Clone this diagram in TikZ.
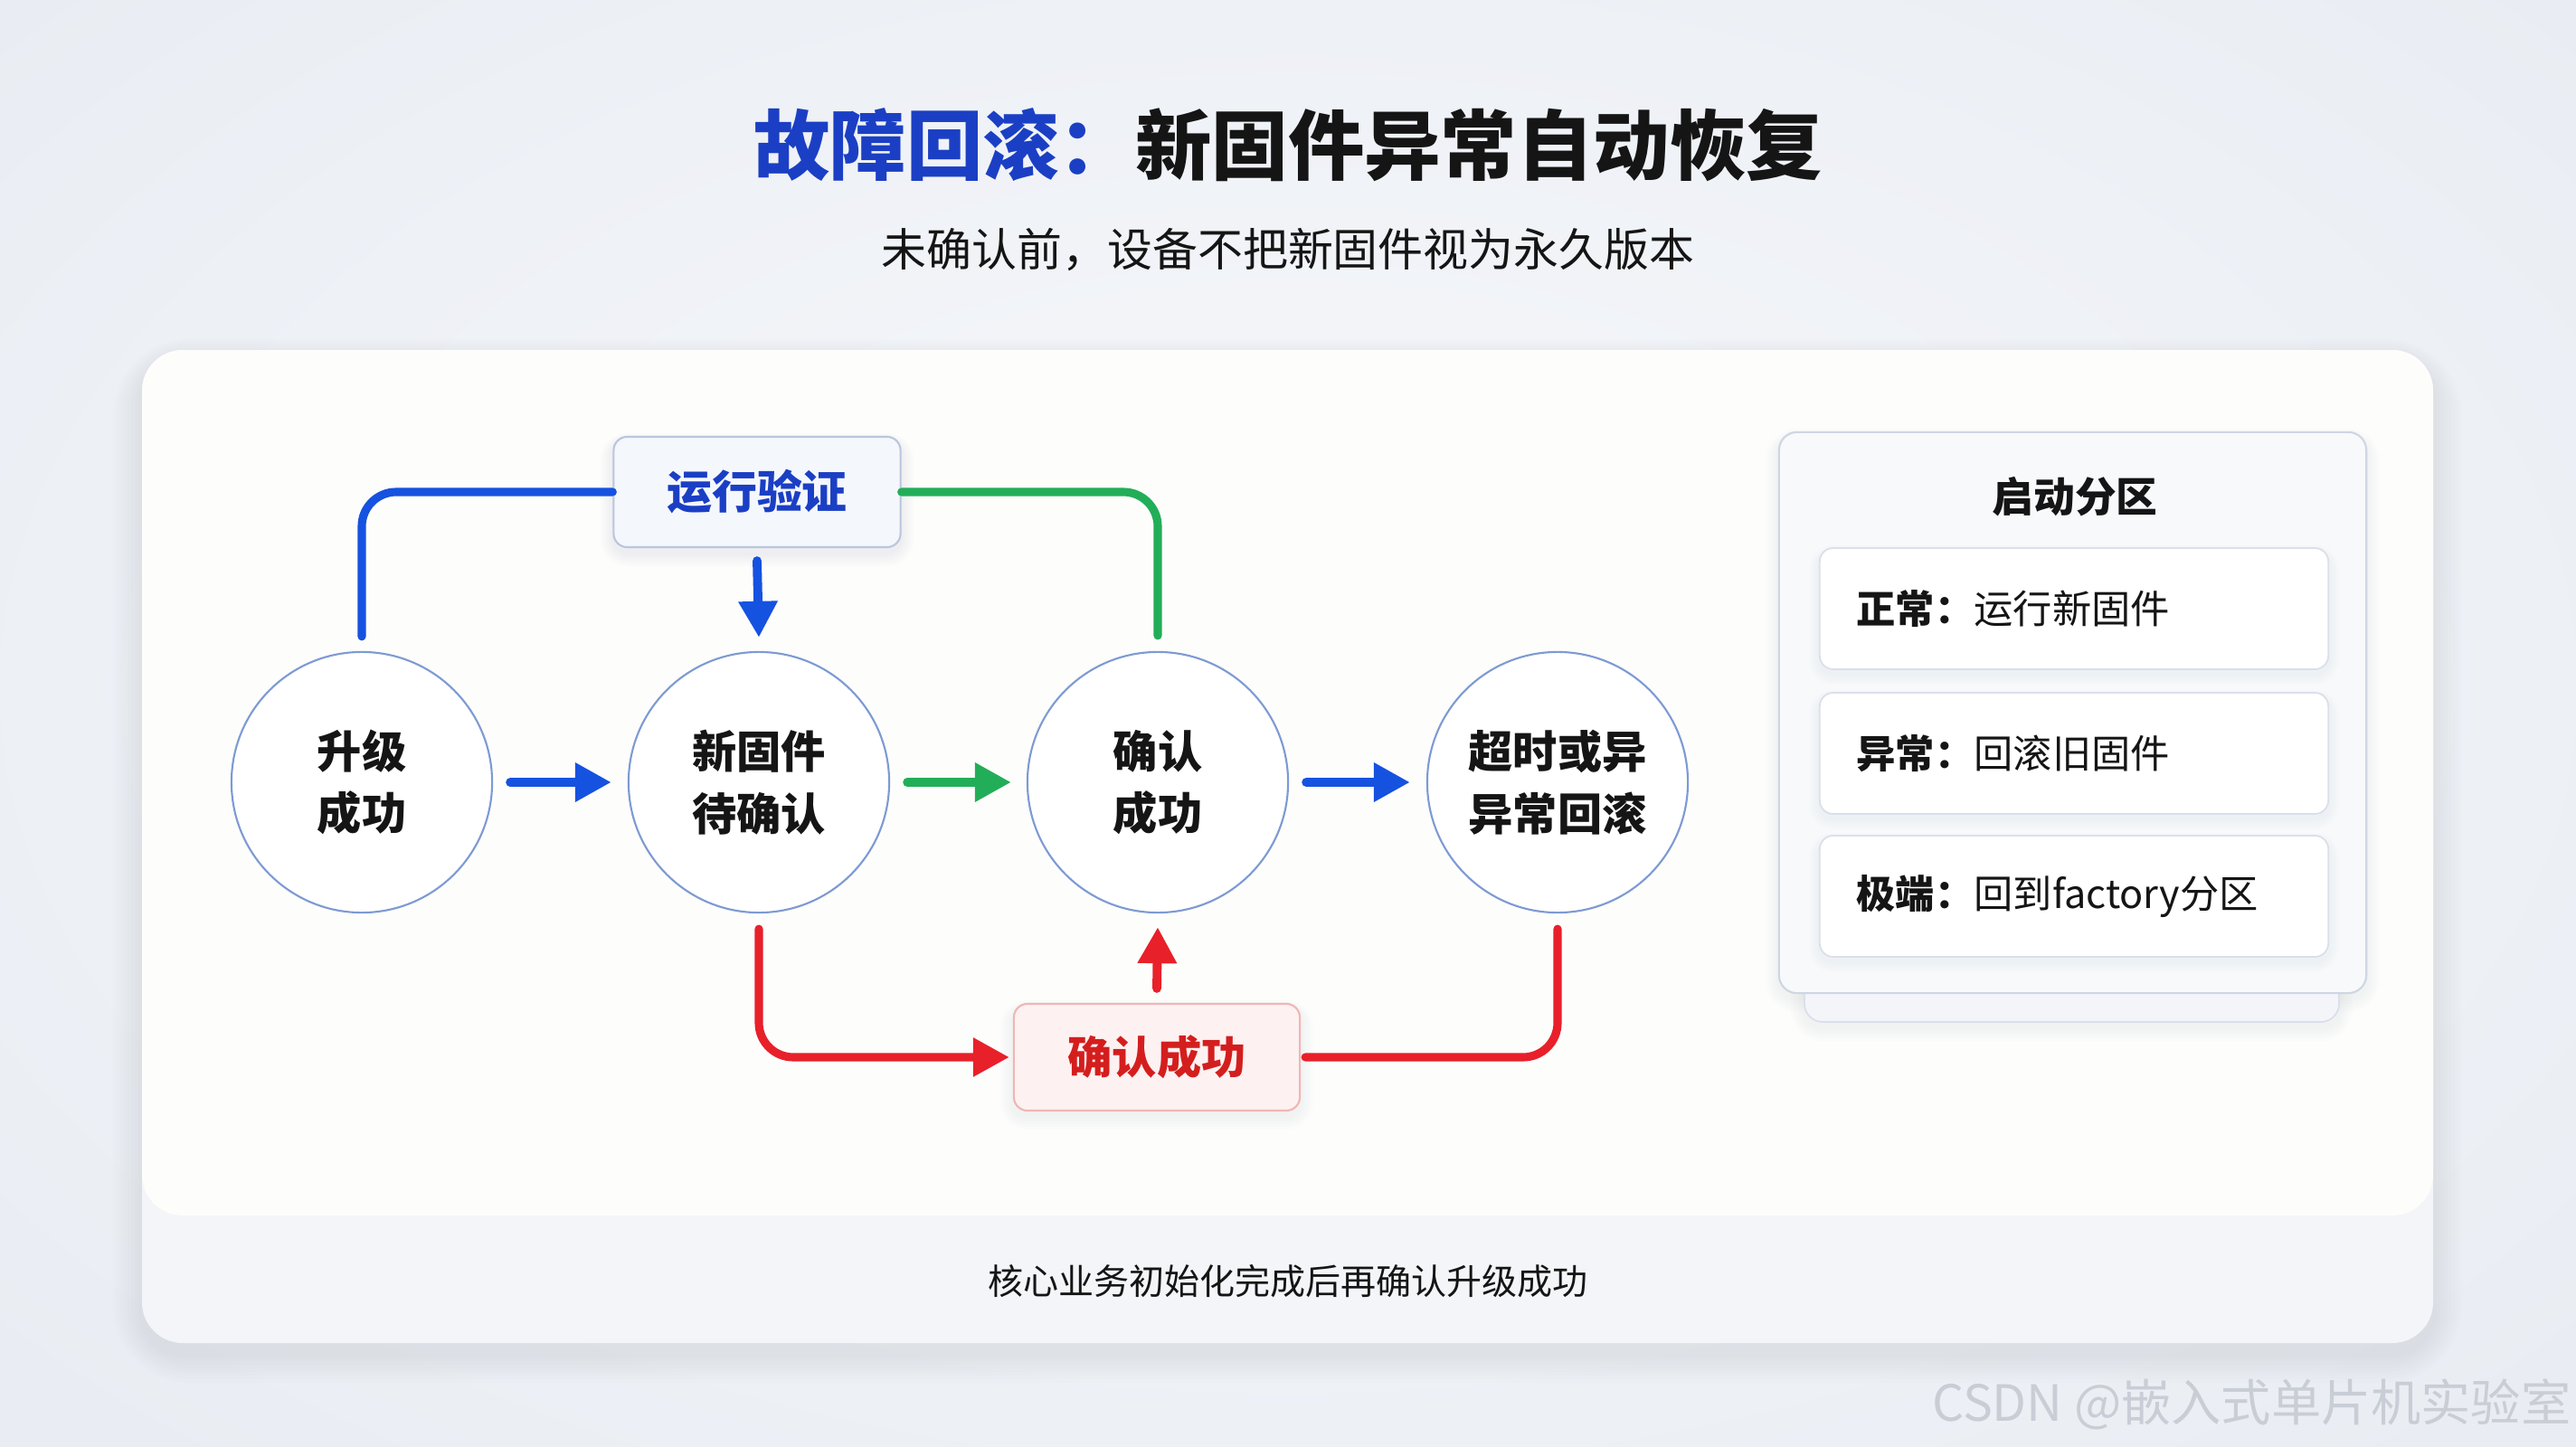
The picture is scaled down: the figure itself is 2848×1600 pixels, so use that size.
\documentclass[tikz,border=0pt]{standalone}
\usepackage{fontspec}
\setmainfont{Noto Sans CJK SC}
\usetikzlibrary{arrows.meta,calc}
\definecolor{bgc}{HTML}{E9EDF3}
\definecolor{bgin}{HTML}{F7F8FB}
\definecolor{cardlow}{HTML}{F3F5F9}
\definecolor{cardtop}{HTML}{FDFDFC}
\definecolor{titleblue}{HTML}{1B3FC4}
\definecolor{lblue}{HTML}{1652E0}
\definecolor{lgreen}{HTML}{22AE58}
\definecolor{lred}{HTML}{E8202A}
\definecolor{circ}{HTML}{7D9AD3}
\definecolor{txt}{HTML}{151515}
\definecolor{vbox}{HTML}{F4F7FC}
\definecolor{vboxd}{HTML}{B9C6DD}
\definecolor{rbox}{HTML}{FDF1F1}
\definecolor{rboxd}{HTML}{F1B5B5}
\definecolor{rtext}{HTML}{D41E1E}
\definecolor{panel}{HTML}{F8F9FB}
\definecolor{paneld}{HTML}{CFD6E3}
\definecolor{itemd}{HTML}{DADFEA}
\definecolor{wm}{HTML}{C9CDD5}
\definecolor{shd}{HTML}{4A5A7A}
\begin{document}
\begin{tikzpicture}[x=0.01cm,y=-0.01cm,
  state/.style={circle, draw=circ, line width=0.6pt, fill=white, minimum size=2.88cm, inner sep=0pt, align=center, font=\fontsize{14}{19.5}\selectfont\bfseries, text=txt},
  conn/.style={line width=2.6pt, line cap=round, rounded corners=0.38cm},
  arr/.style={line width=2.8pt, line cap=round, -{Triangle[length=0.4cm,width=0.41cm]}},
  item/.style={draw=itemd, line width=0.5pt, fill=white, rounded corners=0.15cm, minimum width=5.62cm, minimum height=1.34cm, inner sep=0pt},
  itemtext/.style={anchor=west, font=\fontsize{12.3}{14}\selectfont, text=txt, inner sep=0pt}
]
\useasboundingbox (0,0) rectangle (2848,1600);
\begin{scope}
\clip (0,0) rectangle (2848,1600);
\fill[bgc] (0,0) rectangle (2848,1600);
\shade[inner color=bgin, outer color=bgc] (1424,760) ellipse (1900 and 1150);
\end{scope}

% title
\node (title) at (1424,160) {\fontsize{24}{28}\selectfont\bfseries{\color{titleblue}故障回滚：}\color{txt}新固件异常自动恢复};
\node (subtitle) at (1424,276) {\fontsize{14.2}{17}\selectfont\color{txt}未确认前，设备不把新固件视为永久版本};

% card with soft shadow
\foreach \k in {1,...,8} {
  \fill[shd, opacity=0.012, rounded corners=0.45cm+\k*0.05cm] (157-\k*4,387-\k*3+12) rectangle (2690+\k*4,1485+\k*4+12);
}
\fill[cardlow, rounded corners=0.45cm] (157,387) rectangle (2690,1485);
\fill[cardtop, rounded corners=0.45cm] (157,387) rectangle (2690,1344);
\node (footer) at (1424,1417) {\fontsize{11.1}{13}\selectfont\color{txt}核心业务初始化完成后再确认升级成功};

% states
\node[state] (c1) at (400,865) {升级\\成功};
\node[state] (c2) at (839,865) {新固件\\待确认};
\node[state] (c3) at (1280,865) {确认\\成功};
\node[state] (c4) at (1722,865) {超时或异\\异常回滚};

% box shadows
\foreach \k in {1,...,5} {
  \fill[shd, opacity=0.015, rounded corners=0.15cm+\k*0.03cm] (679-\k*3,483-\k*2+6) rectangle (995+\k*3,605+\k*3+6);
  \fill[shd, opacity=0.012, rounded corners=0.15cm+\k*0.03cm] (1121-\k*3,1110-\k*2+6) rectangle (1437+\k*3,1228+\k*3+6);
}
% boxes
\node[draw=vboxd, fill=vbox, line width=0.6pt, rounded corners=0.15cm, minimum width=3.17cm, minimum height=1.22cm, inner sep=0pt,
  font=\fontsize{14.2}{16}\selectfont\bfseries, text=titleblue] (verify) at (837,544) {运行验证};
\node[draw=rboxd, fill=rbox, line width=0.6pt, rounded corners=0.15cm, minimum width=3.16cm, minimum height=1.18cm, inner sep=0pt,
  font=\fontsize{14}{16}\selectfont\bfseries, text=rtext] (confirm) at (1279,1169) {确认成功};

% connectors
\draw[conn, lblue] ([yshift=0.16cm]c1.north) |- (verify.west);
\draw[conn, lgreen] (verify.east) -| ([yshift=0.17cm]c3.north);
\draw[arr, lblue] ([yshift=-0.14cm]verify.south) -- ([yshift=0.15cm]c2.north);
\draw[arr, lblue] ([xshift=0.19cm]c1.east) -- ([xshift=-0.18cm]c2.west);
\draw[arr, lgreen] ([xshift=0.19cm]c2.east) -- ([xshift=-0.17cm]c3.west);
\draw[arr, lblue] ([xshift=0.19cm]c3.east) -- ([xshift=-0.18cm]c4.west);
\draw[conn, lred, -{Triangle[length=0.4cm,width=0.41cm]}] ([yshift=-0.17cm]c2.south) |- ([xshift=-0.04cm]confirm.west);
\draw[arr, lred] ([yshift=0.16cm]confirm.north) -- ([yshift=-0.15cm]c3.south);
\draw[conn, lred] ([xshift=0.05cm]confirm.east) -| ([yshift=-0.17cm]c4.south);

% right panel
\foreach \k in {1,...,5} {
  \fill[shd, opacity=0.012, rounded corners=0.2cm+\k*0.03cm] (1995-\k*3,1000) rectangle (2586+\k*3,1130+\k*3+6);
  \fill[shd, opacity=0.012, rounded corners=0.2cm+\k*0.03cm] (1967-\k*3,478-\k*2+6) rectangle (2616+\k*3,1098+\k*3+6);
}
\fill[cardlow, draw=itemd, line width=0.5pt, rounded corners=0.2cm] (1995,1000) rectangle (2586,1130);
\node[draw=paneld, fill=panel, line width=0.6pt, rounded corners=0.2cm, minimum width=6.49cm, minimum height=6.2cm, inner sep=0pt] (panel) at (2291.5,788) {};
\node[font=\fontsize{13}{15}\selectfont\bfseries, text=txt] (ptitle) at (2294,549) {启动分区};
\foreach \yy in {673,833,991} {
  \foreach \k in {1,...,4} {
    \fill[shd, opacity=0.012, rounded corners=0.15cm+\k*0.03cm] (2012-\k*3,\yy-67-\k*2+5) rectangle (2574+\k*3,\yy+67+\k*3+5);
  }
}
\node[item] (i1) at (2293,673) {};
\node[item] (i2) at (2293,833) {};
\node[item] (i3) at (2293,991) {};
\node[itemtext] (t1) at (2052,673) {\textbf{正常：}运行新固件};
\node[itemtext] (t2) at (2052,833) {\textbf{异常：}回滚旧固件};
\node[itemtext] (t3) at (2052,991) {\textbf{极端：}回到factory分区};

% watermark
\node[anchor=east, font=\fontsize{15.7}{18}\selectfont, text=wm, inner sep=0pt] (wmark) at (2843,1553) {CSDN @嵌入式单片机实验室};
\end{tikzpicture}
\end{document}
